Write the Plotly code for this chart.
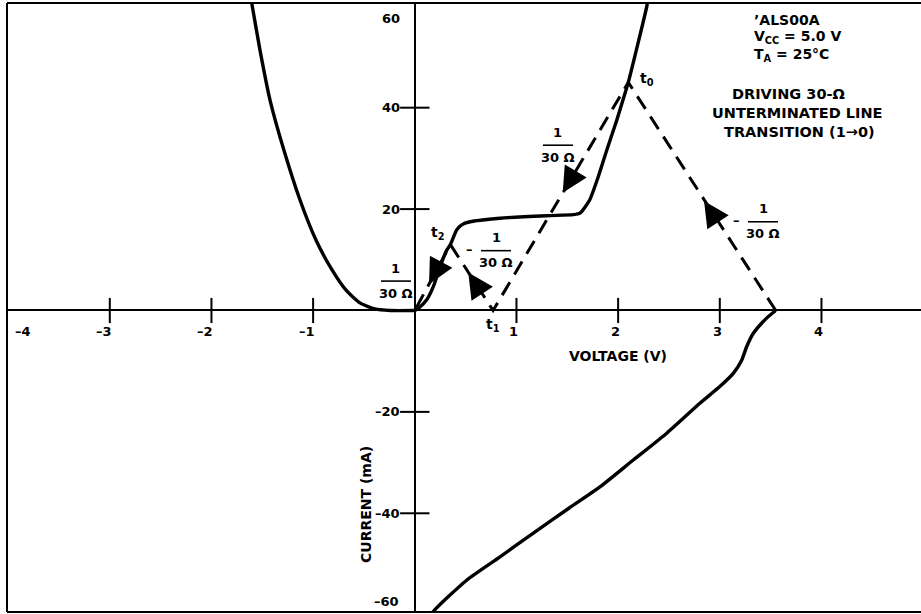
import math
import plotly.graph_objects as go

# ---------------- data ----------------
# forward characteristic, left branch (negative voltage)
left_V = [-1.608, -1.601, -1.523, -1.424, -1.287, -1.129, -0.972, -0.814, -0.676, -0.539, -0.392, -0.24, 0.0]
left_I = [61.0, 60.3, 51.4, 41.5, 31.6, 21.8, 13.9, 8.0, 4.0, 1.5, 0.3, 0.0, 0.0]

# output LOW-state characteristic (positive current)
main_V = [0.0, 0.035, 0.117, 0.182, 0.248, 0.314, 0.35, 0.412, 0.461, 0.543, 0.838, 1.297, 1.559,
          1.625, 1.72, 1.805, 1.888, 1.986, 2.067, 2.10, 2.281, 2.29]
main_I = [0.0, 0.4, 2.1, 4.7, 8.6, 11.9, 13.0, 15.9, 16.9, 17.5, 18.2, 18.7, 18.9,
          19.2, 21.8, 26.4, 31.6, 37.5, 42.8, 45.0, 59.9, 61.0]

# output HIGH-state characteristic (negative current)
high_V = [3.55, 3.461, 3.33, 3.265, 3.215, 3.133, 3.0, 2.804, 2.478, 2.149, 1.821, 1.494, 1.166,
          0.838, 0.51, 0.182, 0.14]
high_I = [0.0, -1.5, -4.5, -7.1, -9.8, -12.4, -15.0, -18.3, -24.2, -29.5, -34.8, -39.3, -43.9,
          -48.6, -53.2, -59.4, -61.0]

# load-line path (1/30 ohm reflections): start, t0, t1, t2, end
load_V = [3.55, 2.10, 0.77, 0.35, 0.0]
load_I = [0.0, 45.0, 0.0, 13.0, 0.0]
t_labels = ["t<sub>0</sub>", "t<sub>1</sub>", "t<sub>2</sub>"]

# arrowheads on the load lines: segment start (tail) and arrow tip
arrow_tail_V = [3.55, 2.10, 0.77, 0.35]
arrow_tail_I = [0.0, 45.0, 0.0, 13.0]
arrow_tip_V = [2.845, 1.455, 0.526, 0.14]
arrow_tip_I = [21.6, 23.2, 7.5, 5.2]

# slope labels "1 / 30 Ω"
frac_V = [1.408, 0.799, 3.425, -0.185]
frac_I = [32.6, 11.8, 17.5, 5.8]
frac_neg = [False, True, True, False]

x_ticks = [-4, -3, -2, -1, 1, 2, 3, 4]
x_tick_labels = ["–4", "–3", "–2", "–1", "1", "2", "3", "4"]
y_ticks = [-60, -40, -20, 20, 40, 60]
y_tick_labels = ["–60", "–40", "–20", "20", "40", "60"]

info_lines_left = ["’ALS00A", "V<sub>CC</sub> = 5.0 V", "T<sub>A</sub> = 25°C"]
info_lines_center = ["DRIVING 30-Ω", "UNTERMINATED LINE", "TRANSITION (1→0)"]

# ---------------- layout constants ----------------
W, H = 921, 614
ML, MR, MT, MB = 7, 0, 3, 2
X_RANGE = [-4.011, 4.979]
Y_RANGE = [-59.47, 60.65]
FONT = "DejaVu Sans, Verdana, sans-serif"
BLACK = "#000000"
PX_PER_V = (W - ML - MR) / (X_RANGE[1] - X_RANGE[0])
PX_PER_I = (H - MT - MB) / (Y_RANGE[1] - Y_RANGE[0])


def paper_x(px):
    return (px - ML) / (W - ML - MR)


def paper_y(py):
    return (H - MB - py) / (H - MT - MB)


def f(size):
    return dict(family=FONT, size=size, color=BLACK)


fig = go.Figure()

for xs, ys in [(left_V, left_I), (main_V, main_I), (high_V, high_I)]:
    fig.add_trace(go.Scatter(x=xs, y=ys, mode="lines",
                             line=dict(color=BLACK, width=3.4, shape="spline", smoothing=0.6),
                             hoverinfo="skip", showlegend=False))

fig.add_trace(go.Scatter(x=load_V, y=load_I, mode="lines",
                         line=dict(color=BLACK, width=3, dash="15px,9px"),
                         hoverinfo="skip", showlegend=False))

# tick marks crossing the axes
xt_in = [v for v in x_ticks if v > X_RANGE[0] + 0.05]
fig.add_trace(go.Scatter(x=xt_in, y=[0] * len(xt_in), mode="markers",
                         marker=dict(symbol="line-ns", size=18, line=dict(color=BLACK, width=2)),
                         hoverinfo="skip", showlegend=False))
yt_in = [v for v in y_ticks if Y_RANGE[0] < v < Y_RANGE[1] - 1]
fig.add_trace(go.Scatter(x=[0] * len(yt_in), y=yt_in, mode="markers",
                         marker=dict(symbol="line-ew", size=21, line=dict(color=BLACK, width=2)),
                         hoverinfo="skip", showlegend=False))

annotations = []


def txt(text, **kw):
    d = dict(text="<b>%s</b>" % text, showarrow=False, font=f(13),
             xanchor="center", yanchor="middle")
    d.update(kw)
    annotations.append(d)


# arrowheads (annotation arrows pointing along the load lines)
for tv, ti, hv, hi in zip(arrow_tail_V, arrow_tail_I, arrow_tip_V, arrow_tip_I):
    dx = (tv - hv) * PX_PER_V
    dy = -(ti - hi) * PX_PER_I
    n = math.hypot(dx, dy)
    L = 18.0
    annotations.append(dict(x=hv, y=hi, xref="x", yref="y", text="", showarrow=True,
                            ax=dx / n * L, ay=dy / n * L, arrowhead=2, arrowsize=1.7,
                            arrowwidth=3, arrowcolor=BLACK, standoff=0, startstandoff=0))

# x tick labels
for v, lab in zip(x_ticks, x_tick_labels):
    xs = 4
    if v == x_ticks[0]:
        xs = 25
    txt(lab, x=v, y=0, xref="x", yref="y", xanchor="right", xshift=xs, yshift=-21)

# y tick labels
for v, lab in zip(y_ticks, y_tick_labels):
    if v > Y_RANGE[1] - 1:
        txt(lab, x=0, y=Y_RANGE[1], xref="x", yref="y", xanchor="right", yanchor="top",
            xshift=-13, yshift=-6)
    elif v < Y_RANGE[0]:
        txt(lab, x=0, y=Y_RANGE[0], xref="x", yref="y", xanchor="right", yanchor="bottom",
            xshift=-14, yshift=1)
    else:
        txt(lab, x=0, y=v, xref="x", yref="y", xanchor="right", xshift=-13)

# t labels
t_pts = [(load_V[1], load_I[1], 19, 3), (load_V[2], load_I[2], 0, -15), (load_V[3], load_I[3], -12, 12)]
for lab, (v, i, dx, dy) in zip(t_labels, t_pts):
    txt(lab, x=v, y=i, xref="x", yref="y", xshift=dx, yshift=dy, font=f(14))

# slope fractions
shapes = []
for v, i, neg in zip(frac_V, frac_I, frac_neg):
    txt("1", x=v, y=i, xref="x", yref="y", yshift=13)
    txt("30 Ω", x=v, y=i, xref="x", yref="y", yshift=-12)
    shapes.append(dict(type="line", xref="x", yref="y", xsizemode="pixel", ysizemode="pixel",
                       xanchor=v, yanchor=i, x0=-15, x1=15, y0=0, y1=0,
                       line=dict(color=BLACK, width=1.6)))
    if neg:
        txt("–", x=v, y=i, xref="x", yref="y", xshift=-27, yshift=1)

# axis titles
txt("VOLTAGE (V)", x=paper_x(618), y=paper_y(356), xref="paper", yref="paper", font=f(14))
txt("CURRENT (mA)", x=paper_x(366), y=paper_y(505), xref="paper", yref="paper", textangle=-90,
    font=f(14))

# info block
for line, py in zip(info_lines_left, [20, 37, 55]):
    txt(line, x=paper_x(753), y=paper_y(py), xref="paper", yref="paper", xanchor="left",
        font=f(14), borderpad=0)
for line, px, py in zip(info_lines_center, [788, 797, 799], [94, 113, 132]):
    txt(line, x=paper_x(px), y=paper_y(py), xref="paper", yref="paper", font=f(14.5), borderpad=0)

# frame (left, top, bottom)
for x0, y0, x1, y1 in [(0, 0, 0, 1), (0, 1, 1, 1), (0, 0, 1, 0)]:
    shapes.append(dict(type="line", xref="paper", yref="paper", x0=x0, y0=y0, x1=x1, y1=y1,
                       line=dict(color=BLACK, width=2)))

fig.update_layout(
    width=W, height=H, autosize=False,
    margin=dict(l=ML, r=MR, t=MT, b=MB, pad=0),
    paper_bgcolor="white", plot_bgcolor="white",
    showlegend=False,
    xaxis=dict(range=X_RANGE, showgrid=False, zeroline=True, zerolinecolor=BLACK, zerolinewidth=2,
               showticklabels=False, ticks="", showline=False, fixedrange=True),
    yaxis=dict(range=Y_RANGE, showgrid=False, zeroline=True, zerolinecolor=BLACK, zerolinewidth=2,
               showticklabels=False, ticks="", showline=False, fixedrange=True),
    annotations=annotations,
    shapes=shapes,
)

fig.write_html("out.html", config=dict(displayModeBar=False),
               post_script="document.body.style.margin='0px';document.body.style.overflow='hidden';")
